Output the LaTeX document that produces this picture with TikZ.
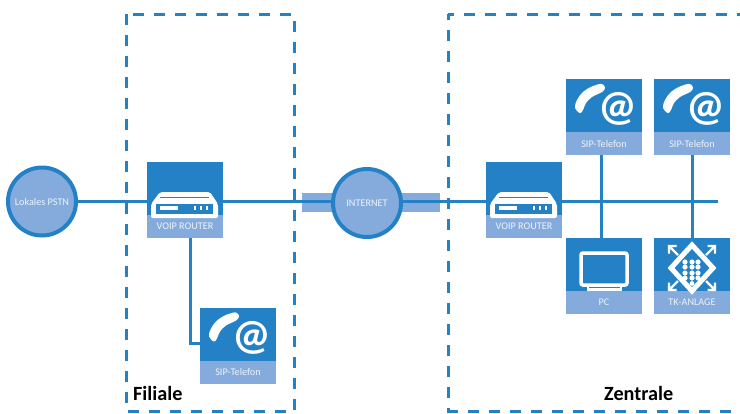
\documentclass[tikz,border=0pt]{standalone}
\usepackage{fontspec}
\setmainfont{Carlito}
\usepackage{tikz}
\usetikzlibrary{positioning}
\definecolor{netblue}{HTML}{2481C6}
\definecolor{netlight}{HTML}{85ABDC}
\definecolor{nettext}{HTML}{EEF3FA}

\tikzset{
    pics/routericon/.style={code={
        \fill[white, rounded corners=2pt] (-34,18) -- (-34,4) -- (-25,-8) -- (25,-8) -- (33,4) -- (33,18) -- cycle;
        \fill[netblue] (-29,4) rectangle (28,14);
        \fill[netblue] (-25,-3.5) rectangle (24,-2.5);
        \fill[white] (-25,6) rectangle (-7.5,10);
        \fill[white] (8.5,6) rectangle (10.5,10);
        \fill[white] (15,6) rectangle (17,10);
        \fill[white] (21,6) rectangle (23,10);
    }},
    pics/phoneicon/.style={code={
        \fill[white] plot[smooth cycle, tension=0.6] coordinates {(-29,-9) (-24,-4) (-21,-7) (-18,-14) (-12,-20) (-2,-25) (1,-29) (-2,-33) (-11,-31) (-21,-25) (-27,-17)};
        \node[text=white, inner sep=0pt, font=\fontsize{43}{43}\selectfont\bfseries] at (13.5,-8) {@};
    }},
    pics/pcicon/.style={code={
        \draw[white, line width=3.5pt, rounded corners=2pt] (-23,-23) rectangle (23,9);
        \fill[white] (-17,9) rectangle (18,15);
        \fill[netblue] (-15,10.5) rectangle (16,11.5);
    }},
    pics/tkicon/.style={code={
        \draw[white, line width=5pt] (0,-31) -- (21,-8) -- (0,15) -- (-21,-8) -- cycle;
        \foreach \px in {-7,0,6}
            \foreach \py in {-14,-9,-3,2}
                \fill[white] (\px,\py) circle (2.6);
        \fill[white] (0,7.5) circle (2.4);
        \foreach \sx in {-1,1}
            \foreach \sy in {-1,1}
                \draw[white, line width=2.4pt] (\sx*14,-8+\sy*13) -- (\sx*22.5,-8+\sy*21.5)
                    (\sx*15.5,-8+\sy*22) -- (\sx*23,-8+\sy*22) -- (\sx*23,-8+\sy*14.5);
    }}
}

\begin{document}
\begin{tikzpicture}[
        x=1pt, y=-1pt,
        node distance=12pt and 12pt,
        every node/.style={font=\fontsize{10.2}{12}\selectfont},
        devbox/.style={fill=netblue, minimum width=76pt, minimum height=76pt, inner sep=0pt, outer sep=0pt},
        bandbox/.style={fill=netlight, text=nettext, minimum width=76pt, minimum height=23pt, inner sep=0pt, outer sep=0pt, anchor=south},
        netcircle/.style={circle, draw=netblue, line width=4pt, fill=netlight, text=nettext, minimum size=68pt, inner sep=0pt, outer sep=0pt},
        wanband/.style={fill=netlight, minimum width=138pt, minimum height=19pt, inner sep=0pt, outer sep=0pt},
        netline/.style={draw=netblue, line width=3pt},
        zone/.style={draw=netblue, line width=3pt, dash pattern=on 11pt off 10pt},
        zonelabel/.style={font=\fontsize{20.2}{22}\selectfont\bfseries, inner sep=0pt, anchor=base west}
    ]
    \useasboundingbox (0,0) rectangle (740,413);

    % Zones
    \draw[zone] (126,14) rectangle (294,411.5);
    \draw[zone, dash phase=5pt] (448,14) -- (740,14);
    \draw[zone, dash phase=5pt] (448,14) -- (448,413);
    \draw[zone] (447,411.5) -- (740,411.5);
    \node[zonelabel] (filiale) at (133,400) {Filiale};
    \node[zonelabel] (zentrale) at (604,400) {Zentrale};

    % Nodes
    \node[wanband] (wan) at (371,202.5) {};
    \node[netcircle] (pstn) at (42,201.5) {Lokales PSTN};
    \node[netcircle] (internet) at (367,203) {INTERNET};
    \node[devbox] (voip1) at (185,200) {};
    \node[bandbox] (voip1lab) at (voip1.south) {VOIP ROUTER};
    \node[devbox] (voip2) at (524,200) {};
    \node[bandbox] (voip2lab) at (voip2.south) {VOIP ROUTER};
    \node[devbox] (sip1) at (604,117) {};
    \node[bandbox] (sip1lab) at (sip1.south) {SIP-Telefon};
    \node[devbox, right=of sip1] (sip2) {};
    \node[bandbox] (sip2lab) at (sip2.south) {SIP-Telefon};
    \node[devbox, below=83pt of sip1] (pc) {};
    \node[bandbox] (pclab) at (pc.south) {PC};
    \node[devbox, right=of pc] (tk) {};
    \node[bandbox] (tklab) at (tk.south) {TK-ANLAGE};
    \node[devbox] (sip3) at (238,345.5) {};
    \node[bandbox] (sip3lab) at (sip3.south) {SIP-Telefon};
    \coordinate (lineend) at (718,201.7);

    % Icons
    \pic at (voip1.center) {routericon};
    \pic at (voip2.center) {routericon};
    \pic at (sip1.center) {phoneicon};
    \pic at (sip2.center) {phoneicon};
    \pic at (sip3.center) {phoneicon};
    \pic at (pc.center) {pcicon};
    \pic at (tk.center) {tkicon};

    % Lines
    \draw[netline] (pstn.east) -- (pstn.east -| voip1.west);
    \draw[netline] (lineend -| voip1.east) -- (lineend -| internet.west);
    \draw[netline] (lineend -| internet.east) -- (lineend -| voip2.west);
    \draw[netline] (lineend -| voip2.east) -- (lineend);
    \draw[netline] ([xshift=5pt]voip1lab.south) |- (sip3.west |- 0,343.5);
    \draw[netline] ([xshift=-3pt]sip1lab.south) -- ([xshift=-3pt]pc.north);
    \draw[netline] (sip2lab.south) -- (tk.north);

\end{tikzpicture}
\end{document}
